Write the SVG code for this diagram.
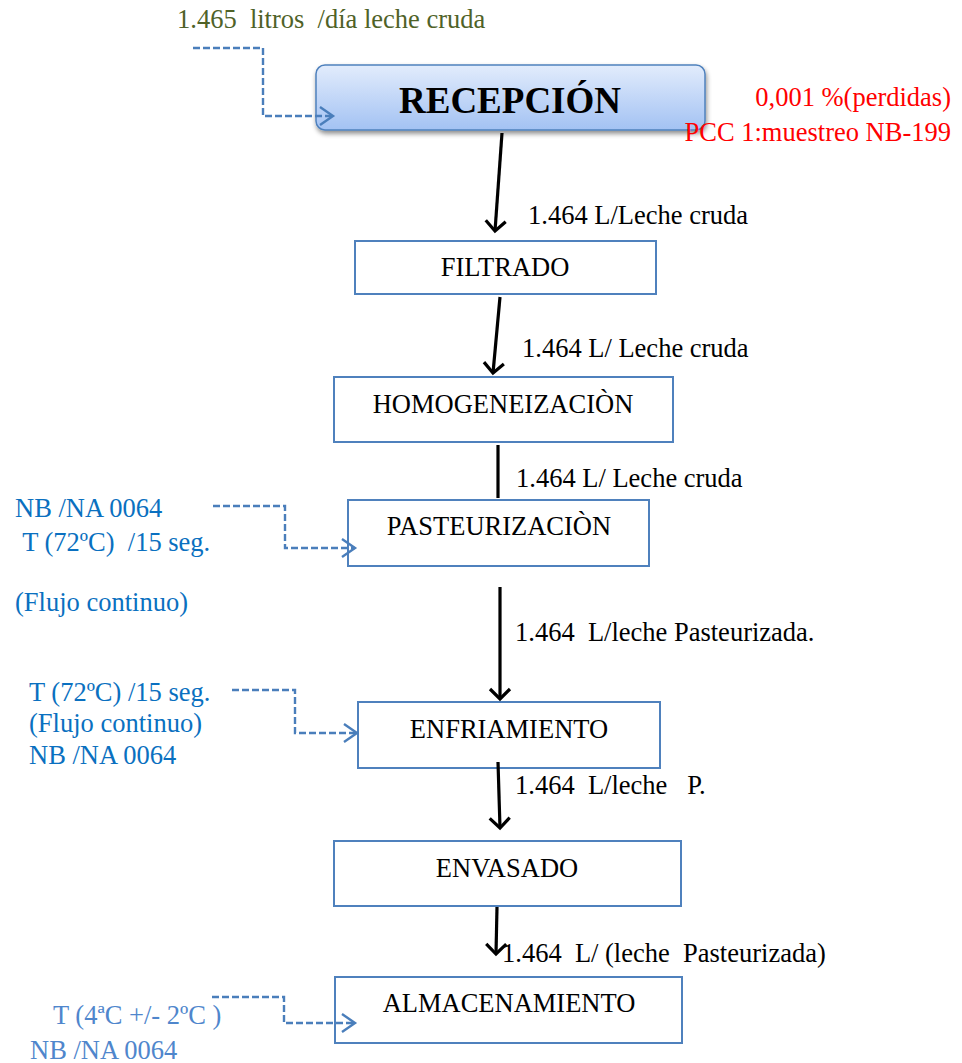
<svg xmlns="http://www.w3.org/2000/svg" width="962" height="1063" viewBox="0 0 962 1063">
<defs>
<linearGradient id="gRec" x1="0" y1="0" x2="0" y2="1">
<stop offset="0" stop-color="#e2ecfc"/>
<stop offset="1" stop-color="#a3c2f3"/>
</linearGradient>
<filter id="sh" x="-10%" y="-20%" width="120%" height="150%">
<feGaussianBlur in="SourceAlpha" stdDeviation="2.5"/>
<feOffset dx="1" dy="3" result="b"/>
<feComponentTransfer><feFuncA type="linear" slope="0.45"/></feComponentTransfer>
<feMerge><feMergeNode/><feMergeNode in="SourceGraphic"/></feMerge>
</filter>
<marker id="ah" markerWidth="24" markerHeight="24" refX="12" refY="12" orient="auto" markerUnits="userSpaceOnUse">
<path d="M2,2 L12,12 L2,22" fill="none" stroke="#000" stroke-width="3.2"/>
</marker>
<marker id="ahb" markerWidth="22" markerHeight="22" refX="16" refY="11" orient="auto" markerUnits="userSpaceOnUse">
<path d="M3,2 L16,11 L3,20" fill="none" stroke="#4a7ebb" stroke-width="2.4"/>
</marker>
</defs>
<style>
text{font-family:"Liberation Serif","Times New Roman",serif;font-size:26.5px;}
.box{fill:#fff;stroke:#4f81bd;stroke-width:2;}
.lbl{fill:#000;}
.node{fill:#000;text-anchor:middle;}
.bt{fill:#0a70c0;}
.bt2{fill:#4f86cc;}
.red{fill:#ff0000;text-anchor:end;}
.flow{fill:none;stroke:#000;stroke-width:3.2;}
.dash{fill:none;stroke:#4a7ebb;stroke-width:2.4;stroke-dasharray:7 3;}
</style>

<g id="input-note">
<text x="177" y="28" fill="#4f6228" xml:space="preserve">1.465  litros  /día leche cruda</text>
</g>

<g id="recepcion">
<rect x="316" y="65" width="389" height="65" rx="9" fill="url(#gRec)" stroke="#4f81bd" stroke-width="1.5" filter="url(#sh)"/>
<text class="node" x="510" y="113" style="font-size:37px;font-weight:bold">RECEPCIÓN</text>
</g>

<g id="perdidas-note">
<text class="red" x="951" y="106">0,001 %(perdidas)</text>
<text class="red" x="951" y="141">PCC 1:muestreo NB-199</text>
</g>

<g id="filtrado">
<rect class="box" x="355" y="241" width="301" height="53"/>
<text class="node" x="505" y="276">FILTRADO</text>
</g>

<g id="homogeneizacion">
<rect class="box" x="334" y="377" width="339" height="65"/>
<text class="node" x="503" y="413">HOMOGENEIZACIÒN</text>
</g>

<g id="pasteurizacion">
<rect class="box" x="348" y="500" width="301" height="66"/>
<text class="node" x="499" y="535">PASTEURIZACIÒN</text>
</g>

<g id="pasteurizacion-note">
<text class="bt" x="15" y="517">NB /NA 0064</text>
<text class="bt" x="16" y="551" xml:space="preserve"> T (72ºC)  /15 seg.</text>
<text class="bt" x="15" y="611">(Flujo continuo)</text>
</g>

<g id="enfriamiento">
<rect class="box" x="358" y="702" width="302" height="66"/>
<text class="node" x="509" y="738">ENFRIAMIENTO</text>
</g>

<g id="enfriamiento-note">
<text class="bt" x="29" y="701">T (72ºC) /15 seg.</text>
<text class="bt" x="29" y="732">(Flujo continuo)</text>
<text class="bt" x="29" y="764">NB /NA 0064</text>
</g>

<g id="envasado">
<rect class="box" x="334" y="841" width="347" height="65"/>
<text class="node" x="507" y="877">ENVASADO</text>
</g>

<g id="almacenamiento">
<rect class="box" x="335" y="977" width="347" height="66"/>
<text class="node" x="509" y="1012">ALMACENAMIENTO</text>
</g>

<g id="almacenamiento-note">
<text class="bt2" x="53" y="1024">T (4ªC +/- 2ºC )</text>
<text class="bt2" x="30" y="1059">NB /NA 0064</text>
</g>

<g id="connectors">
<path class="dash" d="M193,48 H263 V116 H333" marker-end="url(#ahb)"/>
<path class="dash" d="M213,506 H285 V548 H355" marker-end="url(#ahb)"/>
<path class="dash" d="M232,690 H295 V733 H357" marker-end="url(#ahb)"/>
<path class="dash" d="M212,997 H284 V1023 H355" marker-end="url(#ahb)"/>
<line class="flow" x1="502" y1="133" x2="495" y2="231" marker-end="url(#ah)"/>
<line class="flow" x1="500" y1="297" x2="493" y2="373" marker-end="url(#ah)"/>
<line class="flow" x1="498" y1="445" x2="498" y2="498"/>
<line class="flow" x1="500" y1="587" x2="500" y2="699" marker-end="url(#ah)"/>
<line class="flow" x1="498" y1="762" x2="500" y2="828" marker-end="url(#ah)"/>
<line class="flow" x1="497" y1="907" x2="496" y2="954" marker-end="url(#ah)"/>
<text class="lbl" x="528" y="224">1.464 L/Leche cruda</text>
<text class="lbl" x="522" y="357">1.464 L/ Leche cruda</text>
<text class="lbl" x="516" y="487">1.464 L/ Leche cruda</text>
<text class="lbl" x="515" y="641" xml:space="preserve">1.464  L/leche Pasteurizada.</text>
<text class="lbl" x="515" y="794" xml:space="preserve">1.464  L/leche   P.</text>
<text class="lbl" x="502" y="962" xml:space="preserve">1.464  L/ (leche  Pasteurizada)</text>
</g>
</svg>
